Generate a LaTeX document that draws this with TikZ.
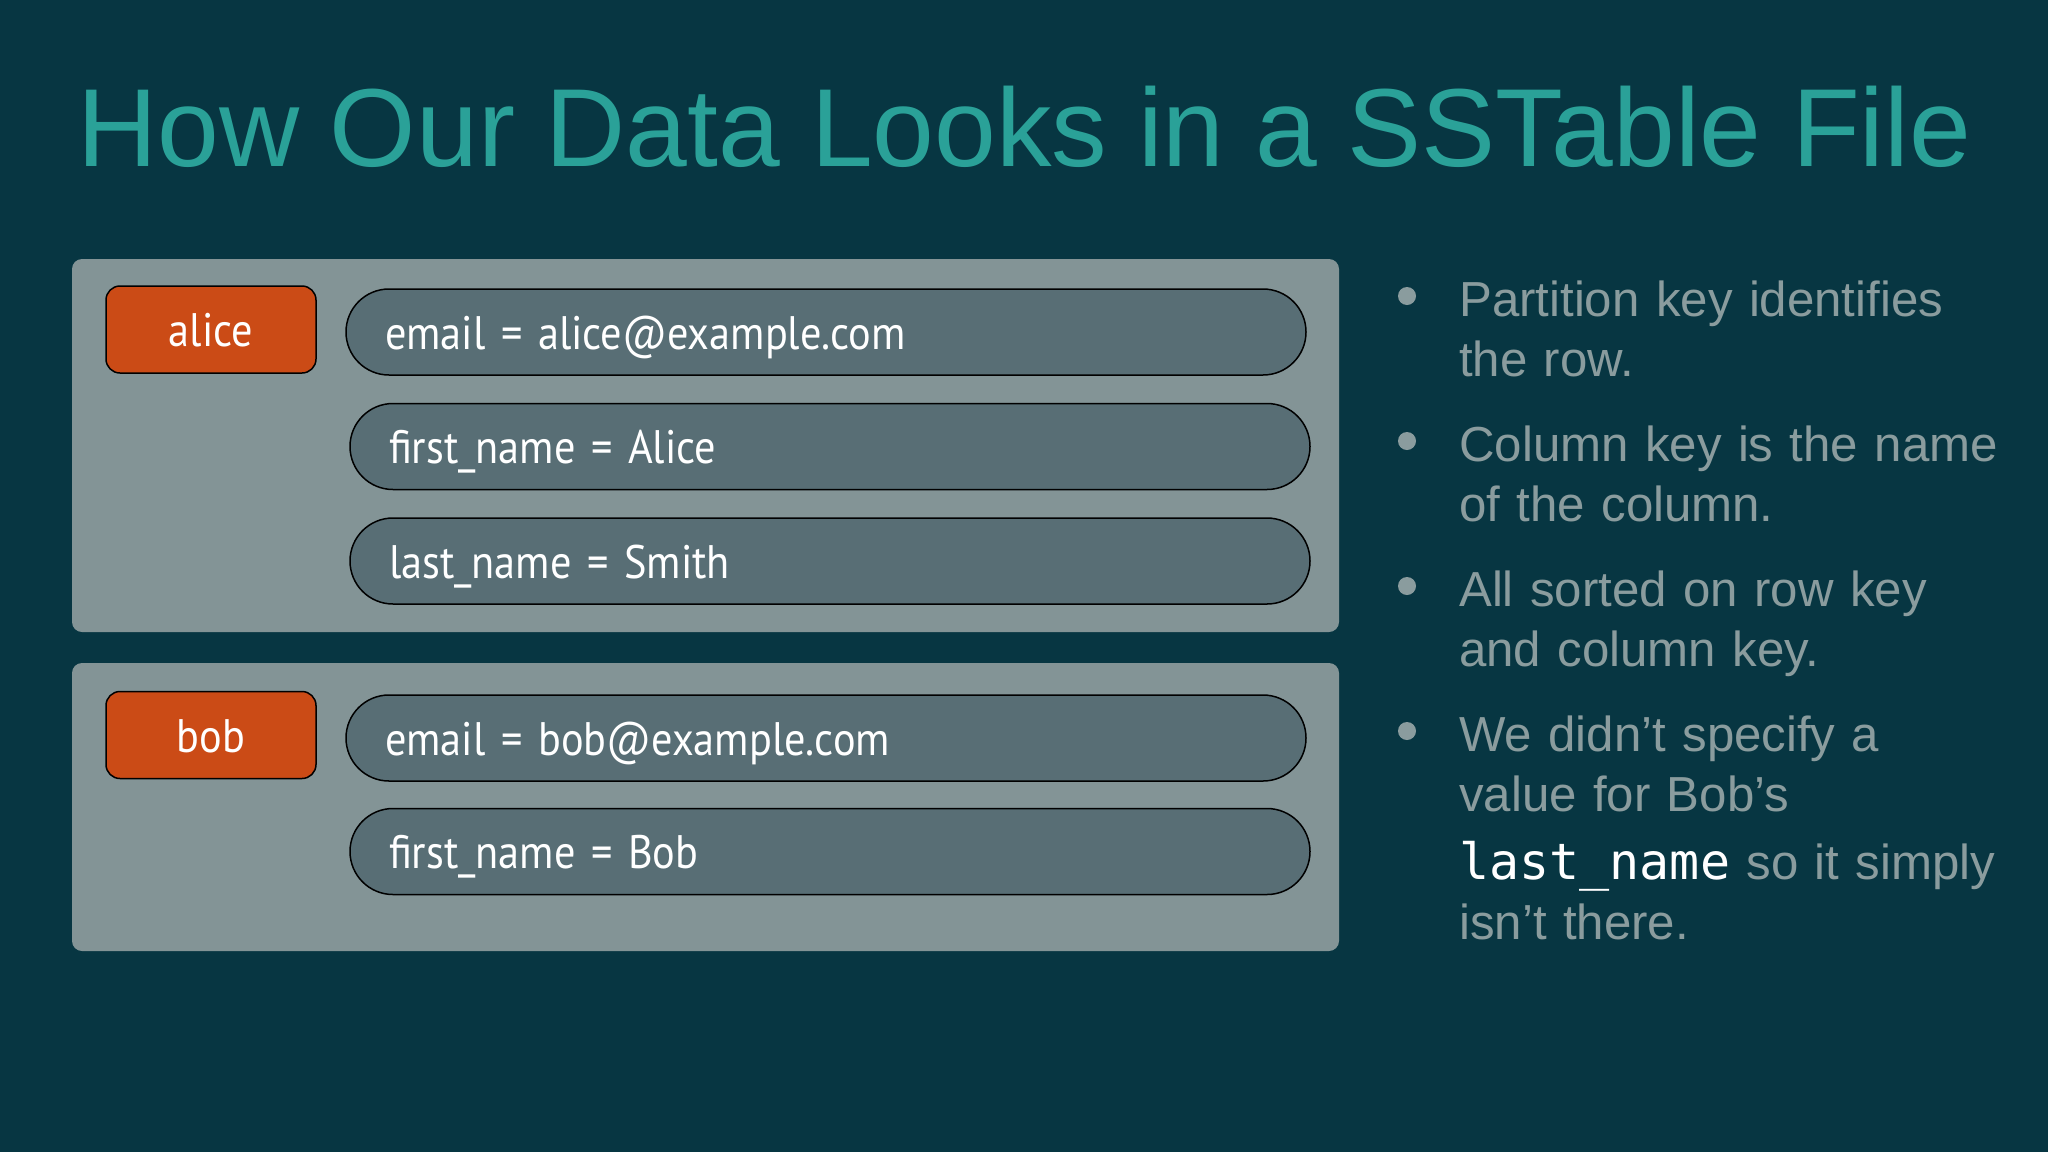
\documentclass[tikz,border=0pt]{standalone}
\usepackage{fontspec}
\setmainfont{Liberation Sans}
\newfontfamily\boxfont[FakeStretch=0.9]{PT Sans}
\setmonofont{DejaVu Sans Mono}
\usepackage{tikz}
\usetikzlibrary{positioning}

\definecolor{slidebg}{HTML}{073642}
\definecolor{titlecyan}{HTML}{2AA198}
\definecolor{panelgray}{HTML}{839496}
\definecolor{cellgray}{HTML}{586E75}
\definecolor{keyorange}{HTML}{CB4B16}
\definecolor{bullettext}{HTML}{8A9C9E}
\definecolor{monowhite}{HTML}{FFFFFF}

\begin{document}
\begin{tikzpicture}[x=1pt,y=1pt,
		panel/.style={fill=panelgray, rounded corners=10pt, minimum width=1267pt, inner sep=0pt},
		rowkey/.style={draw=black, line width=1.5pt, fill=keyorange, rounded corners=14pt,
			minimum width=210pt, minimum height=87pt, text=white, text height=34pt, text depth=0pt,
			font=\boxfont\fontsize{47}{52}\selectfont},
		cell/.style={draw=black, line width=1.5pt, fill=cellgray, rounded corners=43pt,
			minimum height=86pt, text width=882pt, inner xsep=39pt, align=left, text=white,
			text height=34pt, text depth=0pt, font=\boxfont\fontsize{47}{52}\selectfont},
		bullet/.style={anchor=base west, inner sep=0pt, text width=600pt, align=left,
			text=bullettext, font=\fontsize{49.2}{60}\selectfont},
		dot/.style={circle, fill=bullettext, minimum size=18pt, inner sep=0pt}]
	\fill[slidebg] (0,0) rectangle (2048,-1152);
	\useasboundingbox (0,0) rectangle (2048,-1152);
	%
	\node[anchor=base west, inner sep=0pt, text=titlecyan, font=\fontsize{111}{132}\selectfont]
		(title) at (77,-166) {How Our Data Looks in a SSTable File};
	%
	\node[panel, minimum height=373pt] (p-alice) at (705.5,-445.5) {};
	\node[panel, minimum height=288pt] (p-bob) at (705.5,-807) {};
	%
	\node[rowkey] (k-alice) at (211,-329.5) {alice};
	\node[cell] (alice-email) at (826,-332) {email = alice@example.com};
	\node[cell, below=27pt of alice-email, xshift=4pt] (alice-first) {first\_name = Alice};
	\node[cell, below=27pt of alice-first] (alice-last) {last\_name = Smith};
	%
	\node[rowkey] (k-bob) at (211,-735) {bob};
	\node[cell] (bob-email) at (826,-738) {email = bob@example.com};
	\node[cell, below=26pt of bob-email, xshift=4pt] (bob-first) {first\_name = Bob};
	%
	\node[dot] (d1) at (1407,-296) {};
	\node[bullet] (b1) at (1459,-316) {Partition key identifies\\ the row.};
	\node[dot] (d2) at (1407,-441) {};
	\node[bullet] (b2) at (1459,-461) {Column key is the name\\ of the column.};
	\node[dot] (d3) at (1407,-586) {};
	\node[bullet] (b3) at (1459,-606) {All sorted on row key\\ and column key.};
	\node[dot] (d4) at (1407,-731) {};
	\node[bullet] (b4) at (1459,-751) {We didn’t specify a\\ value for Bob’s\\[8pt]
		{\ttfamily\fontsize{50}{60}\selectfont\color{monowhite}last\_name} so it simply\\ isn’t there.};
\end{tikzpicture}
\end{document}
